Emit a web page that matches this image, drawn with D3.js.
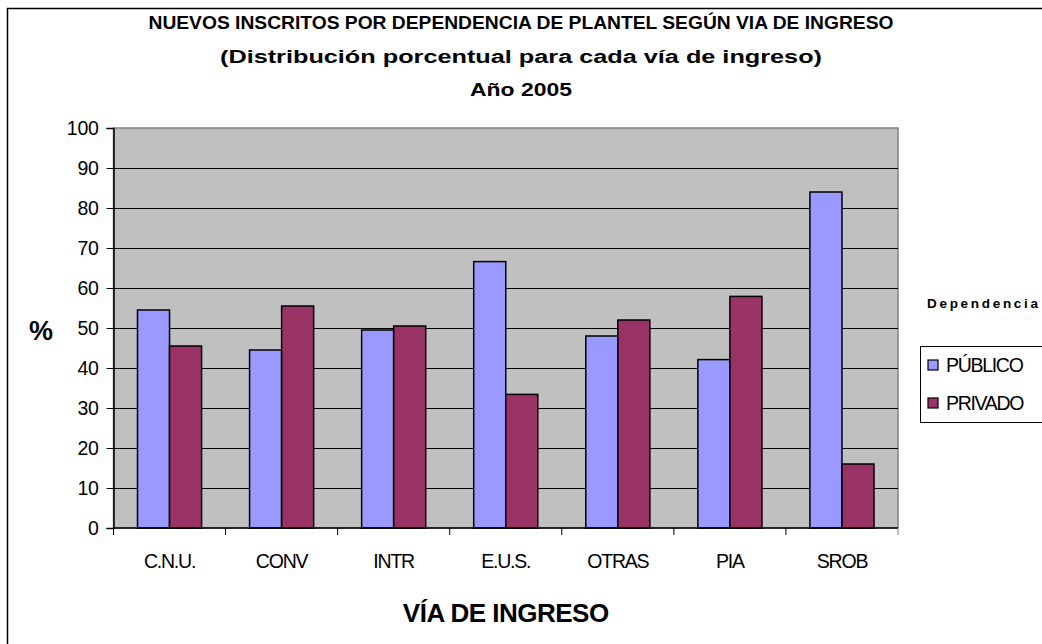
<!DOCTYPE html>
<html>
<head>
<meta charset="utf-8">
<script src="https://cdn.jsdelivr.net/npm/d3@7"></script>
<style>
  body { margin: 0; background: #fff; }
  text { font-family: "Liberation Sans", Arial, sans-serif; }
</style>
</head>
<body>
<div id="chart"></div>
<script>
// data
const categories = ["C.N.U.", "CONV", "INTR", "E.U.S.", "OTRAS", "PIA", "SROB"];
const publico = [54.5, 44.5, 49.5, 66.6, 48, 42.1, 84];
const privado = [45.5, 55.5, 50.5, 33.4, 52, 57.9, 16];
const seriesNames = ["PÚBLICO", "PRIVADO"];
const yTicks = [0, 10, 20, 30, 40, 50, 60, 70, 80, 90, 100];
const titleLines = [
  "NUEVOS INSCRITOS POR DEPENDENCIA DE PLANTEL SEGÚN VIA DE INGRESO",
  "(Distribución porcentual para cada vía de ingreso)",
  "Año 2005"
];

const colors = ["#9999ff", "#993366"];
const W = 1042, H = 644;
const margin = { top: 128, left: 113.5, right: 144, bottom: 116 };
const width = W - margin.left - margin.right;   // ~784
const height = H - margin.top - margin.bottom;  // 400

const svg = d3.select("#chart").append("svg").attr("width", W).attr("height", H);

// outer frame (runs off the right and bottom of the picture)
svg.append("rect").attr("x", 7.5).attr("y", 8.5).attr("width", 1200).attr("height", 800)
  .attr("fill", "none").attr("stroke", "#000").attr("stroke-width", 1.5);

// titles - squeezed like the original narrow bold face
const titleW = [745, 602, 102];
const titleY = [29, 63, 96];
titleLines.forEach((t, i) => {
  svg.append("text").attr("x", 521).attr("y", titleY[i]).attr("text-anchor", "middle")
    .attr("font-size", 17.5).attr("font-weight", "bold")
    .attr("textLength", titleW[i]).attr("lengthAdjust", "spacingAndGlyphs")
    .text(t);
});

const g = svg.append("g").attr("transform", "translate(" + margin.left + "," + margin.top + ")");

var x = d3.scaleBand().domain(categories).range([0, width]).paddingInner(0).paddingOuter(0);
var x1 = d3.scaleBand().domain(seriesNames).range([24, x.bandwidth() - 24]);
var y = d3.scaleLinear().domain([0, 100]).range([height, 0]);

// plot background
g.append("rect").attr("width", width).attr("height", height).attr("fill", "#c0c0c0")
  .attr("stroke", "#808080").attr("stroke-width", 1.5);

// gridlines
g.selectAll(".grid").data(yTicks.filter(d => d > 0 && d < 100)).enter().append("line")
  .attr("x1", 0).attr("x2", width)
  .attr("y1", d => Math.round(y(d)) + 0.5).attr("y2", d => Math.round(y(d)) + 0.5)
  .attr("stroke", "#000").attr("stroke-width", 1);

// bars
const rows = categories.map((c, i) => ({ cat: c, vals: [publico[i], privado[i]] }));
const grp = g.selectAll(".grp").data(rows).enter().append("g")
  .attr("transform", d => "translate(" + x(d.cat) + ",0)");
grp.selectAll("rect").data(d => d.vals.map((v, k) => ({ v: v, k: k }))).enter().append("rect")
  .attr("x", d => x1(seriesNames[d.k]))
  .attr("width", x1.bandwidth())
  .attr("y", d => y(d.v))
  .attr("height", d => y(0) - y(d.v))
  .attr("fill", d => colors[d.k])
  .attr("stroke", "#000").attr("stroke-width", 1.5);

// y axis
const yAxis = d3.axisLeft(y).tickValues(yTicks).tickSize(7).tickPadding(8);
const ya = g.append("g").call(yAxis);
ya.select(".domain").attr("stroke", "#000").attr("stroke-width", 1.5);
ya.selectAll("line").attr("stroke", "#000");
ya.selectAll("text").attr("font-size", 19.5).attr("font-family", "Liberation Sans, Arial, sans-serif")
  .attr("fill", "#000").attr("letter-spacing", -0.3);

// x axis (ticks at band boundaries)
const xa = g.append("g").attr("transform", "translate(0," + height + ")");
xa.append("line").attr("x1", 0).attr("x2", width).attr("stroke", "#000").attr("stroke-width", 1.5);
const bounds = categories.map(c => x(c)).concat([width]);
xa.selectAll(".tk").data(bounds).enter().append("line")
  .attr("x1", d => d).attr("x2", d => d).attr("y1", 0).attr("y2", 7)
  .attr("stroke", (d, i) => i === bounds.length - 1 ? "#808080" : "#000");
xa.selectAll(".lbl").data(categories).enter().append("text")
  .attr("x", d => x(d) + x.bandwidth() / 2).attr("y", 40)
  .attr("text-anchor", "middle").attr("font-size", 19.5).attr("letter-spacing", -1.2)
  .text(d => d);

// axis titles
svg.append("text").attr("x", 41).attr("y", 340).attr("text-anchor", "middle")
  .attr("font-size", 27).attr("font-weight", "bold").text("%");
svg.append("text").attr("x", margin.left + width / 2).attr("y", 622).attr("text-anchor", "middle")
  .attr("font-size", 26).attr("font-weight", "bold").attr("letter-spacing", -0.5).text("VÍA DE INGRESO");

// legend
svg.append("text").attr("x", 927).attr("y", 308).attr("font-size", 13.5).attr("font-weight", "bold")
  .attr("textLength", 111).attr("lengthAdjust", "spacing").text("Dependencia");
svg.append("rect").attr("x", 920.5).attr("y", 346.5).attr("width", 200).attr("height", 76)
  .attr("fill", "#fff").attr("stroke", "#000").attr("stroke-width", 1);
seriesNames.forEach((s, i) => {
  svg.append("rect").attr("x", 928).attr("y", 360 + i * 38).attr("width", 10).attr("height", 10)
    .attr("fill", colors[i]).attr("stroke", "#000").attr("stroke-width", 1.2);
  svg.append("text").attr("x", 946).attr("y", 372 + i * 38).attr("font-size", 19.5)
    .attr("letter-spacing", -1.3).text(s);
});
</script>
</body>
</html>
